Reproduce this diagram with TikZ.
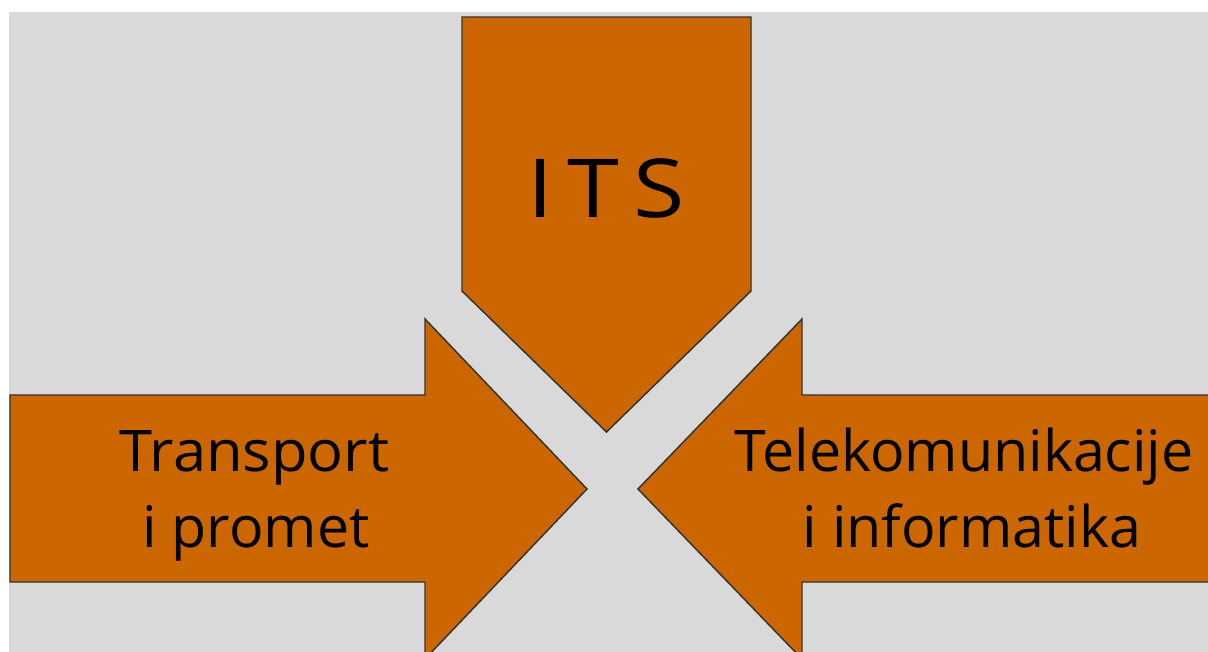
\documentclass[tikz,border=0pt]{standalone}
\usepackage{fontspec}
\setmainfont{Open Sans}
\definecolor{bggray}{HTML}{D9D9D9}
\definecolor{arroworange}{HTML}{CC6600}
\definecolor{edgegray}{HTML}{333333}
\begin{document}
\begin{tikzpicture}[x=0.75pt,y=-0.75pt,
  bigarrow/.style={fill=arroworange,draw=edgegray,line width=1.1pt,line join=miter},
  lbl/.style={anchor=base,inner sep=0pt,font=\fontsize{43}{50}\selectfont,text=black},
  title/.style={anchor=base,inner sep=0pt,font=\fontsize{61}{70}\selectfont,text=black}]
\useasboundingbox (0,0) rectangle (1208,652);
\clip (0,0) rectangle (1208,652);
\fill[bggray] (9,12) rectangle (1210,660);
% top arrow
\draw[bigarrow] (462,17) -- (751,17) -- (751,291) -- (606.5,432) -- (462,291) -- cycle;
% left arrow
\draw[bigarrow] (10,395) -- (425,395) -- (425,319) -- (587,489) -- (425,659) -- (425,582) -- (10,582) -- cycle;
% right arrow
\draw[bigarrow] (1215,395) -- (802,395) -- (802,319) -- (638,489) -- (802,659) -- (802,582) -- (1215,582) -- cycle;
\node[title] (its) at (606,218) {\scalebox{1.15}[1]{I\kern9pt T\kern9pt S}};
\node[lbl] (tr1) at (254.5,472) {\scalebox{1.04}[1]{Transport}};
\node[lbl] (tr2) at (256,547) {i promet};
\node[lbl] (te1) at (964,472) {Telekomunikacije};
\node[lbl] (te2) at (972,547) {i informatika};
\end{tikzpicture}
\end{document}
